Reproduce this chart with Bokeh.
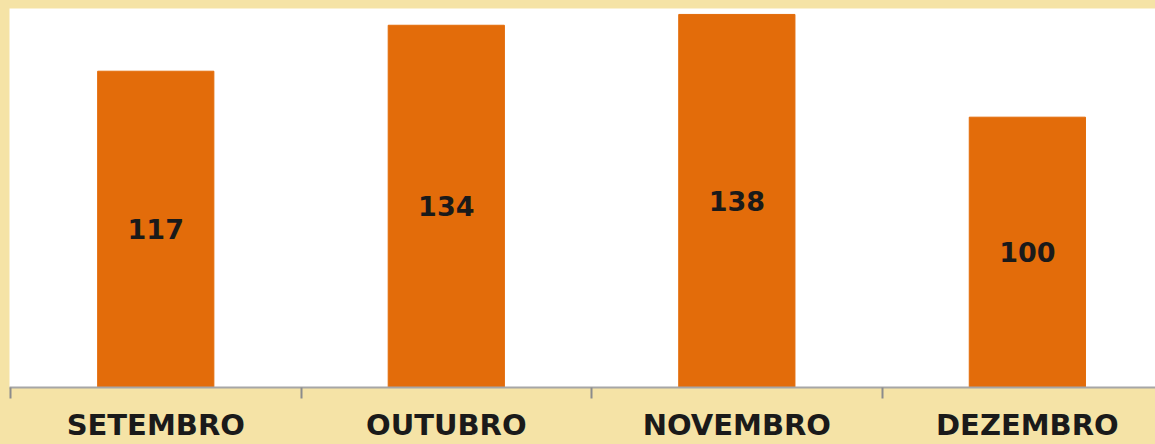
from bokeh.plotting import figure
from bokeh.models import Range1d, FixedTicker, ColumnDataSource, LabelSet
from bokeh.core.properties import value
from bokeh.embed import file_html
from bokeh.resources import INLINE

months = ["SETEMBRO", "OUTUBRO", "NOVEMBRO", "DEZEMBRO"]
values = [117, 134, 138, 100]

BG = "#F5E3A6"
BAR = "#E36C0A"

xs = [i + 0.5 for i in range(len(months))]
src = ColumnDataSource(dict(x=xs, top=values, mid=[v / 2 for v in values],
                            label=[str(v) for v in values]))

p = figure(width=1155, height=444, output_backend="svg", toolbar_location=None,
           x_range=Range1d(-0.0034, 3.941), y_range=Range1d(0, 140.2),
           min_border_left=9, min_border_right=0, min_border_top=8, min_border_bottom=56)
p.background_fill_color = "white"
p.border_fill_color = BG
p.outline_line_color = None
p.grid.visible = False
p.yaxis.visible = False

p.vbar(x="x", top="top", bottom=0, width=0.4, source=src, color=BAR, line_color=BAR)

labels = LabelSet(x="x", y="mid", text="label", source=src, text_align="center",
                  text_baseline="middle", text_font=value("DejaVu Sans"),
                  text_font_style="bold", text_font_size="27px", text_color="#1a1a1a")
p.add_layout(labels)

ax = p.xaxis[0]
ax.ticker = FixedTicker(ticks=xs, minor_ticks=list(range(len(months) + 1)))
ax.major_label_overrides = {x: m for x, m in zip(xs, months)}
ax.major_tick_in = 0
ax.major_tick_out = 0
ax.minor_tick_in = 0
ax.minor_tick_out = 11
ax.minor_tick_line_color = "#8C8C8C"
ax.minor_tick_line_width = 2
ax.axis_line_color = "#A6A6A6"
ax.axis_line_width = 2
ax.major_label_text_font = "DejaVu Sans"
ax.major_label_text_font_style = "bold"
ax.major_label_text_font_size = "29px"
ax.major_label_text_color = "#1a1a1a"
ax.major_label_standoff = 9

html = file_html(p, INLINE)
html = html.replace("<head>", "<head><style>html,body{background:%s;overflow:hidden;}</style>" % BG, 1)
open("out.html", "w").write(html)
